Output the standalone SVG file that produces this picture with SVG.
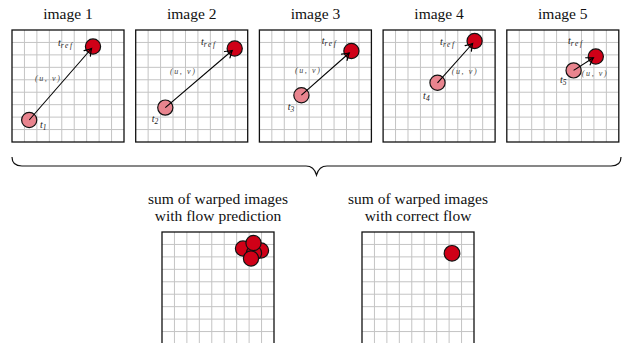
<svg xmlns="http://www.w3.org/2000/svg" width="633" height="343" viewBox="0 0 633 343">
<style>
.title{font-family:"Liberation Serif","Times New Roman",serif;font-size:15.5px;fill:#111;text-anchor:middle}
.grid{stroke:#c4c4c4;stroke-width:1;fill:none}
.frame{fill:none;stroke:#111;stroke-width:1.3}
.ref{fill:#cf0017;stroke:#111;stroke-width:1.2}
.src{fill:#e8848e;stroke:#111;stroke-width:1.2}
.lab{font-family:"Liberation Serif","Times New Roman",serif;font-style:italic;font-size:10px;fill:#222}
.uv{font-family:"Liberation Serif","Times New Roman",serif;font-style:italic;font-size:8px;fill:#444;letter-spacing:1.6px}
.arr{stroke:#000;stroke-width:1.1;fill:none;marker-end:url(#tip)}
.brace{stroke:#111;stroke-width:1.2;fill:none}
</style>
<defs>
<marker id="tip" viewBox="-8 -6 10 12" markerWidth="10" markerHeight="12" refX="0" refY="0" orient="auto" markerUnits="userSpaceOnUse">
<path d="M -6.5,-4.2 Q -2,-1 0,0 Q -2,1 -6.5,4.2" stroke="#000" stroke-width="1.2" fill="none" stroke-linecap="round"/>
</marker>
<g id="gridbox">
<rect x="0" y="0" width="112" height="112" fill="#fff"/>
<path class="grid" d="M12.44,0V112M24.89,0V112M37.33,0V112M49.78,0V112M62.22,0V112M74.67,0V112M87.11,0V112M99.56,0V112M0,12.44H112M0,24.89H112M0,37.33H112M0,49.78H112M0,62.22H112M0,74.67H112M0,87.11H112M0,99.56H112"/>
<rect class="frame" x="0" y="0" width="112" height="112"/>
</g>
</defs>

<g id="image1" transform="translate(12,30)">
<text class="title" x="56" y="-11">image 1</text>
<use href="#gridbox"/>
<circle class="src" cx="17.2" cy="90" r="7.6"/>
<circle class="ref" cx="81" cy="16.5" r="7.6"/>
<text class="lab" x="46" y="16">t<tspan font-size="7.5" dy="2" letter-spacing="1.6">ref</tspan></text>
<text class="uv" x="23" y="51">(u, v)</text>
<text class="lab" x="28" y="98">t<tspan font-size="7.5" dy="2">1</tspan></text>
</g>

<g id="image2" transform="translate(135.7,30)">
<text class="title" x="56" y="-11">image 2</text>
<use href="#gridbox"/>
<circle class="src" cx="29.6" cy="77.6" r="7.6"/>
<circle class="ref" cx="99" cy="18.5" r="7.6"/>
<text class="lab" x="65.3" y="15">t<tspan font-size="7.5" dy="2" letter-spacing="1.6">ref</tspan></text>
<text class="uv" x="34.3" y="44">(u, v)</text>
<text class="lab" x="16" y="91.7">t<tspan font-size="7.5" dy="2">2</tspan></text>
</g>

<g id="image3" transform="translate(259.4,30)">
<text class="title" x="56" y="-11">image 3</text>
<use href="#gridbox"/>
<circle class="src" cx="42" cy="65.2" r="7.6"/>
<circle class="ref" cx="92" cy="21" r="7.6"/>
<text class="lab" x="62.3" y="14">t<tspan font-size="7.5" dy="2" letter-spacing="1.6">ref</tspan></text>
<text class="uv" x="35.6" y="43.3">(u, v)</text>
<text class="lab" x="28.3" y="80">t<tspan font-size="7.5" dy="2">3</tspan></text>
</g>

<g id="image4" transform="translate(383.1,30)">
<text class="title" x="56" y="-11">image 4</text>
<use href="#gridbox"/>
<circle class="src" cx="54.4" cy="52.8" r="7.6"/>
<circle class="ref" cx="91.5" cy="11" r="7.6"/>
<text class="lab" x="57" y="15">t<tspan font-size="7.5" dy="2" letter-spacing="1.6">ref</tspan></text>
<text class="uv" x="68.6" y="44">(u, v)</text>
<text class="lab" x="40" y="69">t<tspan font-size="7.5" dy="2">4</tspan></text>
</g>

<g id="image5" transform="translate(506.8,30)">
<text class="title" x="56" y="-11">image 5</text>
<use href="#gridbox"/>
<circle class="src" cx="66.8" cy="40.4" r="7.6"/>
<circle class="ref" cx="89" cy="26.5" r="7.6"/>
<text class="lab" x="61.2" y="14.3">t<tspan font-size="7.5" dy="2" letter-spacing="1.6">ref</tspan></text>
<text class="uv" x="75" y="46">(u, v)</text>
<text class="lab" x="53.2" y="52.7">t<tspan font-size="7.5" dy="2">5</tspan></text>
</g>

<g id="connectors">
<line class="arr" x1="29.2" y1="120" x2="91.5" y2="48.5"/>
<line class="arr" x1="165.3" y1="107.6" x2="232.2" y2="50.5"/>
<line class="arr" x1="301.4" y1="95.2" x2="349.2" y2="53"/>
<line class="arr" x1="437.5" y1="82.8" x2="472.6" y2="43.5"/>
<line class="arr" x1="573.6" y1="70.4" x2="593.4" y2="57.8"/>
<path class="brace" d="M12,157 Q12,166 22,166 L306,166 Q314,166 316.5,175 Q319,166 327,166 L611,166 Q621,166 621,157"/>
</g>

<g id="sum-prediction" transform="translate(162,232)">
<text class="title" x="56" y="-28">sum of warped images</text>
<text class="title" x="56" y="-11">with flow prediction</text>
<use href="#gridbox"/>
<circle class="ref" cx="81" cy="16.5" r="7.6"/>
<circle class="ref" cx="99" cy="18.5" r="7.6"/>
<circle class="ref" cx="92" cy="21" r="7.6"/>
<circle class="ref" cx="91.5" cy="11" r="7.6"/>
<circle class="ref" cx="89" cy="26.5" r="7.6"/>
</g>

<g id="sum-correct" transform="translate(362,232)">
<text class="title" x="56" y="-28">sum of warped images</text>
<text class="title" x="56" y="-11">with correct flow</text>
<use href="#gridbox"/>
<circle class="ref" cx="90" cy="21.3" r="7.8"/>
</g>
</svg>
